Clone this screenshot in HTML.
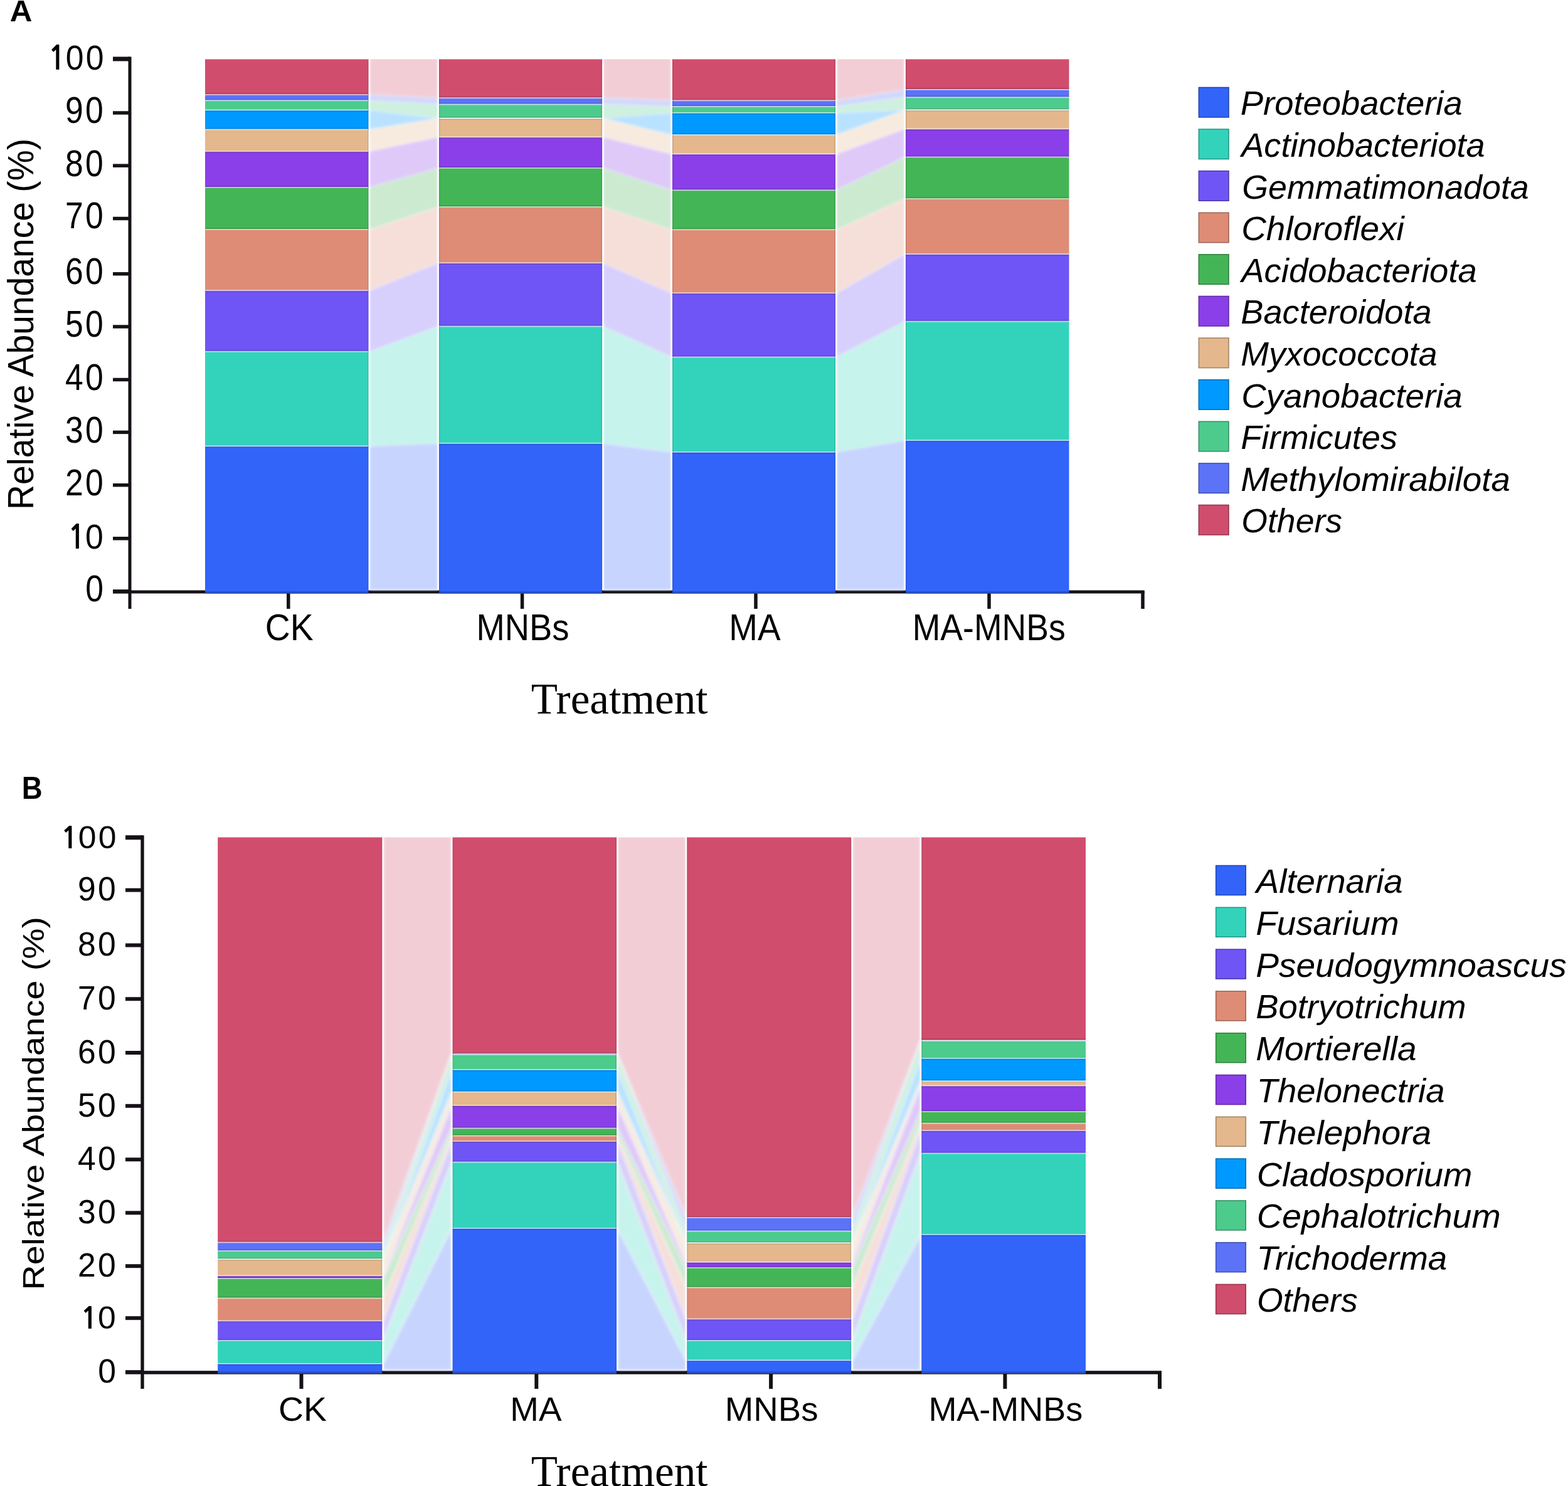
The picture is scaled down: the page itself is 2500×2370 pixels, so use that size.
<!DOCTYPE html>
<html><head><meta charset="utf-8"><title>Relative abundance</title><style>html,body{margin:0;padding:0;background:#fff;overflow:hidden}svg{display:block}</style></head>
<body>
<svg width="2500" height="2370" viewBox="0 0 2500 2370">
<defs><filter id="fa" x="-5%" y="-10%" width="110%" height="120%"><feGaussianBlur stdDeviation="2.0"/></filter><filter id="fb" x="-5%" y="-10%" width="110%" height="120%"><feGaussianBlur stdDeviation="2.6"/></filter></defs>
<line x1="207" y1="90.50" x2="207" y2="971" stroke="#151116" stroke-width="5"/>
<line x1="180" y1="943.40" x2="207" y2="943.40" stroke="#151116" stroke-width="6.5"/>
<line x1="180" y1="858.80" x2="207" y2="858.80" stroke="#151116" stroke-width="5.5"/>
<line x1="180" y1="773.70" x2="207" y2="773.70" stroke="#151116" stroke-width="5.5"/>
<line x1="180" y1="689.40" x2="207" y2="689.40" stroke="#151116" stroke-width="5.5"/>
<line x1="180" y1="605.50" x2="207" y2="605.50" stroke="#151116" stroke-width="5.5"/>
<line x1="180" y1="521.00" x2="207" y2="521.00" stroke="#151116" stroke-width="5.5"/>
<line x1="180" y1="436.80" x2="207" y2="436.80" stroke="#151116" stroke-width="5.5"/>
<line x1="180" y1="348.50" x2="207" y2="348.50" stroke="#151116" stroke-width="5.5"/>
<line x1="180" y1="264.20" x2="207" y2="264.20" stroke="#151116" stroke-width="5.5"/>
<line x1="180" y1="180.00" x2="207" y2="180.00" stroke="#151116" stroke-width="5.5"/>
<line x1="180" y1="94.00" x2="207" y2="94.00" stroke="#151116" stroke-width="7"/>
<line x1="207" y1="943.90" x2="1824.75" y2="943.90" stroke="#151116" stroke-width="5"/>
<line x1="459.8" y1="943.4" x2="459.8" y2="971" stroke="#151116" stroke-width="5.5"/>
<line x1="832.6" y1="943.4" x2="832.6" y2="971" stroke="#151116" stroke-width="5.5"/>
<line x1="1205.0" y1="943.4" x2="1205.0" y2="971" stroke="#151116" stroke-width="5.5"/>
<line x1="1577.0" y1="943.4" x2="1577.0" y2="971" stroke="#151116" stroke-width="5.5"/>
<line x1="1822" y1="943.4" x2="1822" y2="971" stroke="#151116" stroke-width="5.5"/>
<line x1="227" y1="1332.20" x2="227" y2="2215" stroke="#151116" stroke-width="5.3"/>
<line x1="200" y1="2188.50" x2="227" y2="2188.50" stroke="#151116" stroke-width="6.5"/>
<line x1="200" y1="2102.20" x2="227" y2="2102.20" stroke="#151116" stroke-width="6"/>
<line x1="200" y1="2019.22" x2="227" y2="2019.22" stroke="#151116" stroke-width="6"/>
<line x1="200" y1="1934.34" x2="227" y2="1934.34" stroke="#151116" stroke-width="6"/>
<line x1="200" y1="1849.30" x2="227" y2="1849.30" stroke="#151116" stroke-width="6"/>
<line x1="200" y1="1763.80" x2="227" y2="1763.80" stroke="#151116" stroke-width="6"/>
<line x1="200" y1="1679.00" x2="227" y2="1679.00" stroke="#151116" stroke-width="6"/>
<line x1="200" y1="1593.22" x2="227" y2="1593.22" stroke="#151116" stroke-width="6"/>
<line x1="200" y1="1507.54" x2="227" y2="1507.54" stroke="#151116" stroke-width="6"/>
<line x1="200" y1="1419.60" x2="227" y2="1419.60" stroke="#151116" stroke-width="6"/>
<line x1="200" y1="1335.70" x2="227" y2="1335.70" stroke="#151116" stroke-width="7"/>
<line x1="227" y1="2189.00" x2="1852.00" y2="2189.00" stroke="#151116" stroke-width="5.3"/>
<line x1="480.5" y1="2188.5" x2="480.5" y2="2215" stroke="#151116" stroke-width="6"/>
<line x1="855.3" y1="2188.5" x2="855.3" y2="2215" stroke="#151116" stroke-width="6"/>
<line x1="1229.1" y1="2188.5" x2="1229.1" y2="2215" stroke="#151116" stroke-width="6"/>
<line x1="1602.4" y1="2188.5" x2="1602.4" y2="2215" stroke="#151116" stroke-width="6"/>
<line x1="1849" y1="2188.5" x2="1849" y2="2215" stroke="#151116" stroke-width="6"/>
<clipPath id="cfa"><rect x="587.5" y="94.50" width="856.5" height="849.10"/></clipPath>
<g clip-path="url(#cfa)"><g filter="url(#fa)">
<polygon points="589.0,711.5 698.5,707.0 698.5,941.1 589.0,941.1" fill="#c6d4fe"/>
<polygon points="589.0,560.8 698.5,520.5 698.5,707.0 589.0,711.5" fill="#c6f3ec"/>
<polygon points="589.0,463.3 698.5,419.3 698.5,520.5 589.0,560.8" fill="#d7cffc"/>
<polygon points="589.0,366.0 698.5,330.0 698.5,419.3 589.0,463.3" fill="#f6dfd9"/>
<polygon points="589.0,299.0 698.5,268.0 698.5,330.0 589.0,366.0" fill="#cbead0"/>
<polygon points="589.0,241.2 698.5,218.5 698.5,268.0 589.0,299.0" fill="#dec9f9"/>
<polygon points="589.0,206.5 698.5,188.8 698.5,218.5 589.0,241.2" fill="#f7ebdf"/>
<polygon points="589.0,175.6 698.5,188.4 698.5,188.8 589.0,206.5" fill="#b8e2ff"/>
<polygon points="589.0,160.3 698.5,166.5 698.5,188.4 589.0,175.6" fill="#cdf0df"/>
<polygon points="589.0,151.0 698.5,156.3 698.5,166.5 589.0,160.3" fill="#d1d8fd"/>
<polygon points="589.0,86.5 698.5,86.5 698.5,156.3 589.0,151.0" fill="#f2cdd6"/>
<line x1="589.0" y1="711.50" x2="698.5" y2="707.00" stroke="#fff" stroke-opacity="0.3" stroke-width="2.0"/>
<line x1="589.0" y1="560.80" x2="698.5" y2="520.50" stroke="#fff" stroke-opacity="0.3" stroke-width="2.0"/>
<line x1="589.0" y1="463.30" x2="698.5" y2="419.30" stroke="#fff" stroke-opacity="0.3" stroke-width="2.0"/>
<line x1="589.0" y1="366.00" x2="698.5" y2="330.00" stroke="#fff" stroke-opacity="0.3" stroke-width="2.0"/>
<line x1="589.0" y1="299.00" x2="698.5" y2="268.00" stroke="#fff" stroke-opacity="0.3" stroke-width="2.0"/>
<line x1="589.0" y1="241.20" x2="698.5" y2="218.50" stroke="#fff" stroke-opacity="0.3" stroke-width="2.0"/>
<line x1="589.0" y1="206.50" x2="698.5" y2="188.80" stroke="#fff" stroke-opacity="0.3" stroke-width="2.0"/>
<line x1="589.0" y1="175.60" x2="698.5" y2="188.40" stroke="#fff" stroke-opacity="0.3" stroke-width="2.0"/>
<line x1="589.0" y1="160.30" x2="698.5" y2="166.50" stroke="#fff" stroke-opacity="0.3" stroke-width="2.0"/>
<line x1="589.0" y1="151.00" x2="698.5" y2="156.30" stroke="#fff" stroke-opacity="0.3" stroke-width="2.0"/>
<polygon points="961.5,707.0 1070.5,721.0 1070.5,941.1 961.5,941.1" fill="#c6d4fe"/>
<polygon points="961.5,520.5 1070.5,569.5 1070.5,721.0 961.5,707.0" fill="#c6f3ec"/>
<polygon points="961.5,419.3 1070.5,467.3 1070.5,569.5 961.5,520.5" fill="#d7cffc"/>
<polygon points="961.5,330.0 1070.5,366.3 1070.5,467.3 961.5,419.3" fill="#f6dfd9"/>
<polygon points="961.5,268.0 1070.5,303.3 1070.5,366.3 961.5,330.0" fill="#cbead0"/>
<polygon points="961.5,218.5 1070.5,245.6 1070.5,303.3 961.5,268.0" fill="#dec9f9"/>
<polygon points="961.5,188.8 1070.5,215.0 1070.5,245.6 961.5,218.5" fill="#f7ebdf"/>
<polygon points="961.5,188.4 1070.5,180.0 1070.5,215.0 961.5,188.8" fill="#b8e2ff"/>
<polygon points="961.5,166.5 1070.5,170.0 1070.5,180.0 961.5,188.4" fill="#cdf0df"/>
<polygon points="961.5,156.3 1070.5,160.3 1070.5,170.0 961.5,166.5" fill="#d1d8fd"/>
<polygon points="961.5,86.5 1070.5,86.5 1070.5,160.3 961.5,156.3" fill="#f2cdd6"/>
<line x1="961.5" y1="707.00" x2="1070.5" y2="721.00" stroke="#fff" stroke-opacity="0.3" stroke-width="2.0"/>
<line x1="961.5" y1="520.50" x2="1070.5" y2="569.50" stroke="#fff" stroke-opacity="0.3" stroke-width="2.0"/>
<line x1="961.5" y1="419.30" x2="1070.5" y2="467.30" stroke="#fff" stroke-opacity="0.3" stroke-width="2.0"/>
<line x1="961.5" y1="330.00" x2="1070.5" y2="366.30" stroke="#fff" stroke-opacity="0.3" stroke-width="2.0"/>
<line x1="961.5" y1="268.00" x2="1070.5" y2="303.30" stroke="#fff" stroke-opacity="0.3" stroke-width="2.0"/>
<line x1="961.5" y1="218.50" x2="1070.5" y2="245.60" stroke="#fff" stroke-opacity="0.3" stroke-width="2.0"/>
<line x1="961.5" y1="188.80" x2="1070.5" y2="215.00" stroke="#fff" stroke-opacity="0.3" stroke-width="2.0"/>
<line x1="961.5" y1="188.40" x2="1070.5" y2="180.00" stroke="#fff" stroke-opacity="0.3" stroke-width="2.0"/>
<line x1="961.5" y1="166.50" x2="1070.5" y2="170.00" stroke="#fff" stroke-opacity="0.3" stroke-width="2.0"/>
<line x1="961.5" y1="156.30" x2="1070.5" y2="160.30" stroke="#fff" stroke-opacity="0.3" stroke-width="2.0"/>
<polygon points="1333.5,721.0 1442.5,702.3 1442.5,941.1 1333.5,941.1" fill="#c6d4fe"/>
<polygon points="1333.5,569.5 1442.5,512.8 1442.5,702.3 1333.5,721.0" fill="#c6f3ec"/>
<polygon points="1333.5,467.3 1442.5,405.3 1442.5,512.8 1333.5,569.5" fill="#d7cffc"/>
<polygon points="1333.5,366.3 1442.5,317.0 1442.5,405.3 1333.5,467.3" fill="#f6dfd9"/>
<polygon points="1333.5,303.3 1442.5,250.5 1442.5,317.0 1333.5,366.3" fill="#cbead0"/>
<polygon points="1333.5,245.6 1442.5,205.6 1442.5,250.5 1333.5,303.3" fill="#dec9f9"/>
<polygon points="1333.5,215.0 1442.5,175.5 1442.5,205.6 1333.5,245.6" fill="#f7ebdf"/>
<polygon points="1333.5,180.0 1442.5,175.0 1442.5,175.5 1333.5,215.0" fill="#b8e2ff"/>
<polygon points="1333.5,170.0 1442.5,155.3 1442.5,175.0 1333.5,180.0" fill="#cdf0df"/>
<polygon points="1333.5,160.3 1442.5,142.9 1442.5,155.3 1333.5,170.0" fill="#d1d8fd"/>
<polygon points="1333.5,86.5 1442.5,86.5 1442.5,142.9 1333.5,160.3" fill="#f2cdd6"/>
<line x1="1333.5" y1="721.00" x2="1442.5" y2="702.30" stroke="#fff" stroke-opacity="0.3" stroke-width="2.0"/>
<line x1="1333.5" y1="569.50" x2="1442.5" y2="512.80" stroke="#fff" stroke-opacity="0.3" stroke-width="2.0"/>
<line x1="1333.5" y1="467.30" x2="1442.5" y2="405.30" stroke="#fff" stroke-opacity="0.3" stroke-width="2.0"/>
<line x1="1333.5" y1="366.30" x2="1442.5" y2="317.00" stroke="#fff" stroke-opacity="0.3" stroke-width="2.0"/>
<line x1="1333.5" y1="303.30" x2="1442.5" y2="250.50" stroke="#fff" stroke-opacity="0.3" stroke-width="2.0"/>
<line x1="1333.5" y1="245.60" x2="1442.5" y2="205.60" stroke="#fff" stroke-opacity="0.3" stroke-width="2.0"/>
<line x1="1333.5" y1="215.00" x2="1442.5" y2="175.50" stroke="#fff" stroke-opacity="0.3" stroke-width="2.0"/>
<line x1="1333.5" y1="180.00" x2="1442.5" y2="175.00" stroke="#fff" stroke-opacity="0.3" stroke-width="2.0"/>
<line x1="1333.5" y1="170.00" x2="1442.5" y2="155.30" stroke="#fff" stroke-opacity="0.3" stroke-width="2.0"/>
<line x1="1333.5" y1="160.30" x2="1442.5" y2="142.90" stroke="#fff" stroke-opacity="0.3" stroke-width="2.0"/>
</g></g>
<rect x="327.0" y="711.50" width="260.5" height="235.10" fill="#3264fa"/>
<rect x="327.0" y="560.80" width="260.5" height="150.70" fill="#33d3bb"/>
<rect x="327.0" y="463.30" width="260.5" height="97.50" fill="#6f55f5"/>
<rect x="327.0" y="366.00" width="260.5" height="97.30" fill="#de8c76"/>
<rect x="327.0" y="299.00" width="260.5" height="67.00" fill="#44b556"/>
<rect x="327.0" y="241.20" width="260.5" height="57.80" fill="#8a3fe8"/>
<rect x="327.0" y="206.50" width="260.5" height="34.70" fill="#e4b78c"/>
<rect x="327.0" y="175.60" width="260.5" height="30.90" fill="#0099ff"/>
<rect x="327.0" y="160.30" width="260.5" height="15.30" fill="#4ccb8c"/>
<rect x="327.0" y="151.00" width="260.5" height="9.30" fill="#5c73f7"/>
<rect x="327.0" y="94.50" width="260.5" height="56.50" fill="#d14d6d"/>
<rect x="327.0" y="943.10" width="260.5" height="3.5" fill="#000" fill-opacity="0.22"/>
<line x1="327.0" y1="149.20" x2="587.5" y2="149.20" stroke="#000" stroke-opacity="0.16" stroke-width="1.6"/>
<line x1="327.0" y1="151.00" x2="587.5" y2="151.00" stroke="#fff" stroke-opacity="0.55" stroke-width="2.0"/>
<line x1="327.0" y1="158.50" x2="587.5" y2="158.50" stroke="#000" stroke-opacity="0.16" stroke-width="1.6"/>
<line x1="327.0" y1="160.30" x2="587.5" y2="160.30" stroke="#fff" stroke-opacity="0.55" stroke-width="2.0"/>
<line x1="327.0" y1="177.40" x2="587.5" y2="177.40" stroke="#000" stroke-opacity="0.16" stroke-width="1.6"/>
<line x1="327.0" y1="175.60" x2="587.5" y2="175.60" stroke="#fff" stroke-opacity="0.55" stroke-width="2.0"/>
<line x1="327.0" y1="204.70" x2="587.5" y2="204.70" stroke="#000" stroke-opacity="0.16" stroke-width="1.6"/>
<line x1="327.0" y1="206.50" x2="587.5" y2="206.50" stroke="#fff" stroke-opacity="0.55" stroke-width="2.0"/>
<line x1="327.0" y1="243.00" x2="587.5" y2="243.00" stroke="#000" stroke-opacity="0.16" stroke-width="1.6"/>
<line x1="327.0" y1="241.20" x2="587.5" y2="241.20" stroke="#fff" stroke-opacity="0.55" stroke-width="2.0"/>
<line x1="327.0" y1="297.20" x2="587.5" y2="297.20" stroke="#000" stroke-opacity="0.16" stroke-width="1.6"/>
<line x1="327.0" y1="299.00" x2="587.5" y2="299.00" stroke="#fff" stroke-opacity="0.55" stroke-width="2.0"/>
<line x1="327.0" y1="364.20" x2="587.5" y2="364.20" stroke="#000" stroke-opacity="0.16" stroke-width="1.6"/>
<line x1="327.0" y1="366.00" x2="587.5" y2="366.00" stroke="#fff" stroke-opacity="0.55" stroke-width="2.0"/>
<line x1="327.0" y1="465.10" x2="587.5" y2="465.10" stroke="#000" stroke-opacity="0.16" stroke-width="1.6"/>
<line x1="327.0" y1="463.30" x2="587.5" y2="463.30" stroke="#fff" stroke-opacity="0.55" stroke-width="2.0"/>
<line x1="327.0" y1="559.00" x2="587.5" y2="559.00" stroke="#000" stroke-opacity="0.16" stroke-width="1.6"/>
<line x1="327.0" y1="560.80" x2="587.5" y2="560.80" stroke="#fff" stroke-opacity="0.55" stroke-width="2.0"/>
<line x1="327.0" y1="713.30" x2="587.5" y2="713.30" stroke="#000" stroke-opacity="0.16" stroke-width="1.6"/>
<line x1="327.0" y1="711.50" x2="587.5" y2="711.50" stroke="#fff" stroke-opacity="0.55" stroke-width="2.0"/>
<line x1="586.75" y1="94.50" x2="586.75" y2="943.60" stroke="#000" stroke-opacity="0.112" stroke-width="1.5"/>
<line x1="589.10" y1="94.50" x2="589.10" y2="941.10" stroke="#fff" stroke-opacity="0.75" stroke-width="2.4"/>
<rect x="700.0" y="707.00" width="260.0" height="239.60" fill="#3264fa"/>
<rect x="700.0" y="520.50" width="260.0" height="186.50" fill="#33d3bb"/>
<rect x="700.0" y="419.30" width="260.0" height="101.20" fill="#6f55f5"/>
<rect x="700.0" y="330.00" width="260.0" height="89.30" fill="#de8c76"/>
<rect x="700.0" y="268.00" width="260.0" height="62.00" fill="#44b556"/>
<rect x="700.0" y="218.50" width="260.0" height="49.50" fill="#8a3fe8"/>
<rect x="700.0" y="188.80" width="260.0" height="29.70" fill="#e4b78c"/>
<rect x="700.0" y="188.40" width="260.0" height="0.40" fill="#0099ff"/>
<rect x="700.0" y="166.50" width="260.0" height="21.90" fill="#4ccb8c"/>
<rect x="700.0" y="156.30" width="260.0" height="10.20" fill="#5c73f7"/>
<rect x="700.0" y="94.50" width="260.0" height="61.80" fill="#d14d6d"/>
<rect x="700.0" y="943.10" width="260.0" height="3.5" fill="#000" fill-opacity="0.22"/>
<line x1="700.0" y1="154.50" x2="960.0" y2="154.50" stroke="#000" stroke-opacity="0.16" stroke-width="1.6"/>
<line x1="700.0" y1="156.30" x2="960.0" y2="156.30" stroke="#fff" stroke-opacity="0.55" stroke-width="2.0"/>
<line x1="700.0" y1="164.70" x2="960.0" y2="164.70" stroke="#000" stroke-opacity="0.16" stroke-width="1.6"/>
<line x1="700.0" y1="166.50" x2="960.0" y2="166.50" stroke="#fff" stroke-opacity="0.55" stroke-width="2.0"/>
<line x1="700.0" y1="190.20" x2="960.0" y2="190.20" stroke="#000" stroke-opacity="0.16" stroke-width="1.6"/>
<line x1="700.0" y1="188.40" x2="960.0" y2="188.40" stroke="#fff" stroke-opacity="0.55" stroke-width="2.0"/>
<line x1="700.0" y1="187.00" x2="960.0" y2="187.00" stroke="#000" stroke-opacity="0.16" stroke-width="1.6"/>
<line x1="700.0" y1="188.80" x2="960.0" y2="188.80" stroke="#fff" stroke-opacity="0.55" stroke-width="2.0"/>
<line x1="700.0" y1="220.30" x2="960.0" y2="220.30" stroke="#000" stroke-opacity="0.16" stroke-width="1.6"/>
<line x1="700.0" y1="218.50" x2="960.0" y2="218.50" stroke="#fff" stroke-opacity="0.55" stroke-width="2.0"/>
<line x1="700.0" y1="266.20" x2="960.0" y2="266.20" stroke="#000" stroke-opacity="0.16" stroke-width="1.6"/>
<line x1="700.0" y1="268.00" x2="960.0" y2="268.00" stroke="#fff" stroke-opacity="0.55" stroke-width="2.0"/>
<line x1="700.0" y1="328.20" x2="960.0" y2="328.20" stroke="#000" stroke-opacity="0.16" stroke-width="1.6"/>
<line x1="700.0" y1="330.00" x2="960.0" y2="330.00" stroke="#fff" stroke-opacity="0.55" stroke-width="2.0"/>
<line x1="700.0" y1="421.10" x2="960.0" y2="421.10" stroke="#000" stroke-opacity="0.16" stroke-width="1.6"/>
<line x1="700.0" y1="419.30" x2="960.0" y2="419.30" stroke="#fff" stroke-opacity="0.55" stroke-width="2.0"/>
<line x1="700.0" y1="518.70" x2="960.0" y2="518.70" stroke="#000" stroke-opacity="0.16" stroke-width="1.6"/>
<line x1="700.0" y1="520.50" x2="960.0" y2="520.50" stroke="#fff" stroke-opacity="0.55" stroke-width="2.0"/>
<line x1="700.0" y1="708.80" x2="960.0" y2="708.80" stroke="#000" stroke-opacity="0.16" stroke-width="1.6"/>
<line x1="700.0" y1="707.00" x2="960.0" y2="707.00" stroke="#fff" stroke-opacity="0.55" stroke-width="2.0"/>
<line x1="700.75" y1="94.50" x2="700.75" y2="943.60" stroke="#000" stroke-opacity="0.112" stroke-width="1.5"/>
<line x1="698.40" y1="94.50" x2="698.40" y2="941.10" stroke="#fff" stroke-opacity="0.75" stroke-width="2.4"/>
<line x1="959.25" y1="94.50" x2="959.25" y2="943.60" stroke="#000" stroke-opacity="0.112" stroke-width="1.5"/>
<line x1="961.60" y1="94.50" x2="961.60" y2="941.10" stroke="#fff" stroke-opacity="0.75" stroke-width="2.4"/>
<rect x="1072.0" y="721.00" width="260.0" height="225.60" fill="#3264fa"/>
<rect x="1072.0" y="569.50" width="260.0" height="151.50" fill="#33d3bb"/>
<rect x="1072.0" y="467.30" width="260.0" height="102.20" fill="#6f55f5"/>
<rect x="1072.0" y="366.30" width="260.0" height="101.00" fill="#de8c76"/>
<rect x="1072.0" y="303.30" width="260.0" height="63.00" fill="#44b556"/>
<rect x="1072.0" y="245.60" width="260.0" height="57.70" fill="#8a3fe8"/>
<rect x="1072.0" y="215.00" width="260.0" height="30.60" fill="#e4b78c"/>
<rect x="1072.0" y="180.00" width="260.0" height="35.00" fill="#0099ff"/>
<rect x="1072.0" y="170.00" width="260.0" height="10.00" fill="#4ccb8c"/>
<rect x="1072.0" y="160.30" width="260.0" height="9.70" fill="#5c73f7"/>
<rect x="1072.0" y="94.50" width="260.0" height="65.80" fill="#d14d6d"/>
<rect x="1072.0" y="943.10" width="260.0" height="3.5" fill="#000" fill-opacity="0.22"/>
<line x1="1072.0" y1="158.50" x2="1332.0" y2="158.50" stroke="#000" stroke-opacity="0.16" stroke-width="1.6"/>
<line x1="1072.0" y1="160.30" x2="1332.0" y2="160.30" stroke="#fff" stroke-opacity="0.55" stroke-width="2.0"/>
<line x1="1072.0" y1="168.20" x2="1332.0" y2="168.20" stroke="#000" stroke-opacity="0.16" stroke-width="1.6"/>
<line x1="1072.0" y1="170.00" x2="1332.0" y2="170.00" stroke="#fff" stroke-opacity="0.55" stroke-width="2.0"/>
<line x1="1072.0" y1="181.80" x2="1332.0" y2="181.80" stroke="#000" stroke-opacity="0.16" stroke-width="1.6"/>
<line x1="1072.0" y1="180.00" x2="1332.0" y2="180.00" stroke="#fff" stroke-opacity="0.55" stroke-width="2.0"/>
<line x1="1072.0" y1="213.20" x2="1332.0" y2="213.20" stroke="#000" stroke-opacity="0.16" stroke-width="1.6"/>
<line x1="1072.0" y1="215.00" x2="1332.0" y2="215.00" stroke="#fff" stroke-opacity="0.55" stroke-width="2.0"/>
<line x1="1072.0" y1="247.40" x2="1332.0" y2="247.40" stroke="#000" stroke-opacity="0.16" stroke-width="1.6"/>
<line x1="1072.0" y1="245.60" x2="1332.0" y2="245.60" stroke="#fff" stroke-opacity="0.55" stroke-width="2.0"/>
<line x1="1072.0" y1="301.50" x2="1332.0" y2="301.50" stroke="#000" stroke-opacity="0.16" stroke-width="1.6"/>
<line x1="1072.0" y1="303.30" x2="1332.0" y2="303.30" stroke="#fff" stroke-opacity="0.55" stroke-width="2.0"/>
<line x1="1072.0" y1="364.50" x2="1332.0" y2="364.50" stroke="#000" stroke-opacity="0.16" stroke-width="1.6"/>
<line x1="1072.0" y1="366.30" x2="1332.0" y2="366.30" stroke="#fff" stroke-opacity="0.55" stroke-width="2.0"/>
<line x1="1072.0" y1="469.10" x2="1332.0" y2="469.10" stroke="#000" stroke-opacity="0.16" stroke-width="1.6"/>
<line x1="1072.0" y1="467.30" x2="1332.0" y2="467.30" stroke="#fff" stroke-opacity="0.55" stroke-width="2.0"/>
<line x1="1072.0" y1="567.70" x2="1332.0" y2="567.70" stroke="#000" stroke-opacity="0.16" stroke-width="1.6"/>
<line x1="1072.0" y1="569.50" x2="1332.0" y2="569.50" stroke="#fff" stroke-opacity="0.55" stroke-width="2.0"/>
<line x1="1072.0" y1="722.80" x2="1332.0" y2="722.80" stroke="#000" stroke-opacity="0.16" stroke-width="1.6"/>
<line x1="1072.0" y1="721.00" x2="1332.0" y2="721.00" stroke="#fff" stroke-opacity="0.55" stroke-width="2.0"/>
<line x1="1072.75" y1="94.50" x2="1072.75" y2="943.60" stroke="#000" stroke-opacity="0.112" stroke-width="1.5"/>
<line x1="1070.40" y1="94.50" x2="1070.40" y2="941.10" stroke="#fff" stroke-opacity="0.75" stroke-width="2.4"/>
<line x1="1331.25" y1="94.50" x2="1331.25" y2="943.60" stroke="#000" stroke-opacity="0.112" stroke-width="1.5"/>
<line x1="1333.60" y1="94.50" x2="1333.60" y2="941.10" stroke="#fff" stroke-opacity="0.75" stroke-width="2.4"/>
<rect x="1444.0" y="702.30" width="260.5" height="244.30" fill="#3264fa"/>
<rect x="1444.0" y="512.80" width="260.5" height="189.50" fill="#33d3bb"/>
<rect x="1444.0" y="405.30" width="260.5" height="107.50" fill="#6f55f5"/>
<rect x="1444.0" y="317.00" width="260.5" height="88.30" fill="#de8c76"/>
<rect x="1444.0" y="250.50" width="260.5" height="66.50" fill="#44b556"/>
<rect x="1444.0" y="205.60" width="260.5" height="44.90" fill="#8a3fe8"/>
<rect x="1444.0" y="175.50" width="260.5" height="30.10" fill="#e4b78c"/>
<rect x="1444.0" y="175.00" width="260.5" height="0.50" fill="#0099ff"/>
<rect x="1444.0" y="155.30" width="260.5" height="19.70" fill="#4ccb8c"/>
<rect x="1444.0" y="142.90" width="260.5" height="12.40" fill="#5c73f7"/>
<rect x="1444.0" y="94.50" width="260.5" height="48.40" fill="#d14d6d"/>
<rect x="1444.0" y="943.10" width="260.5" height="3.5" fill="#000" fill-opacity="0.22"/>
<line x1="1444.0" y1="141.10" x2="1704.5" y2="141.10" stroke="#000" stroke-opacity="0.16" stroke-width="1.6"/>
<line x1="1444.0" y1="142.90" x2="1704.5" y2="142.90" stroke="#fff" stroke-opacity="0.55" stroke-width="2.0"/>
<line x1="1444.0" y1="153.50" x2="1704.5" y2="153.50" stroke="#000" stroke-opacity="0.16" stroke-width="1.6"/>
<line x1="1444.0" y1="155.30" x2="1704.5" y2="155.30" stroke="#fff" stroke-opacity="0.55" stroke-width="2.0"/>
<line x1="1444.0" y1="176.80" x2="1704.5" y2="176.80" stroke="#000" stroke-opacity="0.16" stroke-width="1.6"/>
<line x1="1444.0" y1="175.00" x2="1704.5" y2="175.00" stroke="#fff" stroke-opacity="0.55" stroke-width="2.0"/>
<line x1="1444.0" y1="173.70" x2="1704.5" y2="173.70" stroke="#000" stroke-opacity="0.16" stroke-width="1.6"/>
<line x1="1444.0" y1="175.50" x2="1704.5" y2="175.50" stroke="#fff" stroke-opacity="0.55" stroke-width="2.0"/>
<line x1="1444.0" y1="207.40" x2="1704.5" y2="207.40" stroke="#000" stroke-opacity="0.16" stroke-width="1.6"/>
<line x1="1444.0" y1="205.60" x2="1704.5" y2="205.60" stroke="#fff" stroke-opacity="0.55" stroke-width="2.0"/>
<line x1="1444.0" y1="248.70" x2="1704.5" y2="248.70" stroke="#000" stroke-opacity="0.16" stroke-width="1.6"/>
<line x1="1444.0" y1="250.50" x2="1704.5" y2="250.50" stroke="#fff" stroke-opacity="0.55" stroke-width="2.0"/>
<line x1="1444.0" y1="315.20" x2="1704.5" y2="315.20" stroke="#000" stroke-opacity="0.16" stroke-width="1.6"/>
<line x1="1444.0" y1="317.00" x2="1704.5" y2="317.00" stroke="#fff" stroke-opacity="0.55" stroke-width="2.0"/>
<line x1="1444.0" y1="407.10" x2="1704.5" y2="407.10" stroke="#000" stroke-opacity="0.16" stroke-width="1.6"/>
<line x1="1444.0" y1="405.30" x2="1704.5" y2="405.30" stroke="#fff" stroke-opacity="0.55" stroke-width="2.0"/>
<line x1="1444.0" y1="511.00" x2="1704.5" y2="511.00" stroke="#000" stroke-opacity="0.16" stroke-width="1.6"/>
<line x1="1444.0" y1="512.80" x2="1704.5" y2="512.80" stroke="#fff" stroke-opacity="0.55" stroke-width="2.0"/>
<line x1="1444.0" y1="704.10" x2="1704.5" y2="704.10" stroke="#000" stroke-opacity="0.16" stroke-width="1.6"/>
<line x1="1444.0" y1="702.30" x2="1704.5" y2="702.30" stroke="#fff" stroke-opacity="0.55" stroke-width="2.0"/>
<line x1="1444.75" y1="94.50" x2="1444.75" y2="943.60" stroke="#000" stroke-opacity="0.112" stroke-width="1.5"/>
<line x1="1442.40" y1="94.50" x2="1442.40" y2="941.10" stroke="#fff" stroke-opacity="0.75" stroke-width="2.4"/>
<clipPath id="cfb"><rect x="609.3" y="1335.50" width="860.0" height="852.30"/></clipPath>
<g clip-path="url(#cfb)"><g filter="url(#fb)">
<polygon points="610.8,2175.0 720.1,1959.0 720.1,2185.3 610.8,2185.3" fill="#c6d4fe"/>
<polygon points="610.8,2138.0 720.1,1853.5 720.1,1959.0 610.8,2175.0" fill="#c6f3ec"/>
<polygon points="610.8,2106.5 720.1,1820.0 720.1,1853.5 610.8,2138.0" fill="#d7cffc"/>
<polygon points="610.8,2070.5 720.1,1811.5 720.1,1820.0 610.8,2106.5" fill="#f6dfd9"/>
<polygon points="610.8,2039.0 720.1,1799.5 720.1,1811.5 610.8,2070.5" fill="#cbead0"/>
<polygon points="610.8,2034.5 720.1,1763.0 720.1,1799.5 610.8,2039.0" fill="#dec9f9"/>
<polygon points="610.8,2008.5 720.1,1741.5 720.1,1763.0 610.8,2034.5" fill="#f7ebdf"/>
<polygon points="610.8,2008.0 720.1,1706.0 720.1,1741.5 610.8,2008.5" fill="#b8e2ff"/>
<polygon points="610.8,1995.0 720.1,1682.0 720.1,1706.0 610.8,2008.0" fill="#cdf0df"/>
<polygon points="610.8,1981.5 720.1,1680.5 720.1,1682.0 610.8,1995.0" fill="#d1d8fd"/>
<polygon points="610.8,1327.5 720.1,1327.5 720.1,1680.5 610.8,1981.5" fill="#f2cdd6"/>
<line x1="610.8" y1="2175.00" x2="720.1" y2="1959.00" stroke="#fff" stroke-opacity="0.6" stroke-width="2.0"/>
<line x1="610.8" y1="2138.00" x2="720.1" y2="1853.50" stroke="#fff" stroke-opacity="0.6" stroke-width="2.0"/>
<line x1="610.8" y1="2106.50" x2="720.1" y2="1820.00" stroke="#fff" stroke-opacity="0.6" stroke-width="2.0"/>
<line x1="610.8" y1="2070.50" x2="720.1" y2="1811.50" stroke="#fff" stroke-opacity="0.6" stroke-width="2.0"/>
<line x1="610.8" y1="2039.00" x2="720.1" y2="1799.50" stroke="#fff" stroke-opacity="0.6" stroke-width="2.0"/>
<line x1="610.8" y1="2034.50" x2="720.1" y2="1763.00" stroke="#fff" stroke-opacity="0.6" stroke-width="2.0"/>
<line x1="610.8" y1="2008.50" x2="720.1" y2="1741.50" stroke="#fff" stroke-opacity="0.6" stroke-width="2.0"/>
<line x1="610.8" y1="2008.00" x2="720.1" y2="1706.00" stroke="#fff" stroke-opacity="0.6" stroke-width="2.0"/>
<line x1="610.8" y1="1995.00" x2="720.1" y2="1682.00" stroke="#fff" stroke-opacity="0.6" stroke-width="2.0"/>
<line x1="610.8" y1="1981.50" x2="720.1" y2="1680.50" stroke="#fff" stroke-opacity="0.6" stroke-width="2.0"/>
<polygon points="984.5,1959.0 1093.9,2169.5 1093.9,2185.3 984.5,2185.3" fill="#c6d4fe"/>
<polygon points="984.5,1853.5 1093.9,2138.0 1093.9,2169.5 984.5,1959.0" fill="#c6f3ec"/>
<polygon points="984.5,1820.0 1093.9,2103.5 1093.9,2138.0 984.5,1853.5" fill="#d7cffc"/>
<polygon points="984.5,1811.5 1093.9,2053.5 1093.9,2103.5 984.5,1820.0" fill="#f6dfd9"/>
<polygon points="984.5,1799.5 1093.9,2022.0 1093.9,2053.5 984.5,1811.5" fill="#cbead0"/>
<polygon points="984.5,1763.0 1093.9,2013.0 1093.9,2022.0 984.5,1799.5" fill="#dec9f9"/>
<polygon points="984.5,1741.5 1093.9,1982.5 1093.9,2013.0 984.5,1763.0" fill="#f7ebdf"/>
<polygon points="984.5,1706.0 1093.9,1982.0 1093.9,1982.5 984.5,1741.5" fill="#b8e2ff"/>
<polygon points="984.5,1682.0 1093.9,1963.5 1093.9,1982.0 984.5,1706.0" fill="#cdf0df"/>
<polygon points="984.5,1680.5 1093.9,1942.0 1093.9,1963.5 984.5,1682.0" fill="#d1d8fd"/>
<polygon points="984.5,1327.5 1093.9,1327.5 1093.9,1942.0 984.5,1680.5" fill="#f2cdd6"/>
<line x1="984.5" y1="1959.00" x2="1093.9" y2="2169.50" stroke="#fff" stroke-opacity="0.6" stroke-width="2.0"/>
<line x1="984.5" y1="1853.50" x2="1093.9" y2="2138.00" stroke="#fff" stroke-opacity="0.6" stroke-width="2.0"/>
<line x1="984.5" y1="1820.00" x2="1093.9" y2="2103.50" stroke="#fff" stroke-opacity="0.6" stroke-width="2.0"/>
<line x1="984.5" y1="1811.50" x2="1093.9" y2="2053.50" stroke="#fff" stroke-opacity="0.6" stroke-width="2.0"/>
<line x1="984.5" y1="1799.50" x2="1093.9" y2="2022.00" stroke="#fff" stroke-opacity="0.6" stroke-width="2.0"/>
<line x1="984.5" y1="1763.00" x2="1093.9" y2="2013.00" stroke="#fff" stroke-opacity="0.6" stroke-width="2.0"/>
<line x1="984.5" y1="1741.50" x2="1093.9" y2="1982.50" stroke="#fff" stroke-opacity="0.6" stroke-width="2.0"/>
<line x1="984.5" y1="1706.00" x2="1093.9" y2="1982.00" stroke="#fff" stroke-opacity="0.6" stroke-width="2.0"/>
<line x1="984.5" y1="1682.00" x2="1093.9" y2="1963.50" stroke="#fff" stroke-opacity="0.6" stroke-width="2.0"/>
<line x1="984.5" y1="1680.50" x2="1093.9" y2="1942.00" stroke="#fff" stroke-opacity="0.6" stroke-width="2.0"/>
<polygon points="1358.7,2169.5 1467.8,1969.0 1467.8,2185.3 1358.7,2185.3" fill="#c6d4fe"/>
<polygon points="1358.7,2138.0 1467.8,1839.5 1467.8,1969.0 1358.7,2169.5" fill="#c6f3ec"/>
<polygon points="1358.7,2103.5 1467.8,1803.0 1467.8,1839.5 1358.7,2138.0" fill="#d7cffc"/>
<polygon points="1358.7,2053.5 1467.8,1791.5 1467.8,1803.0 1358.7,2103.5" fill="#f6dfd9"/>
<polygon points="1358.7,2022.0 1467.8,1773.0 1467.8,1791.5 1358.7,2053.5" fill="#cbead0"/>
<polygon points="1358.7,2013.0 1467.8,1731.5 1467.8,1773.0 1358.7,2022.0" fill="#dec9f9"/>
<polygon points="1358.7,1982.5 1467.8,1724.0 1467.8,1731.5 1358.7,2013.0" fill="#f7ebdf"/>
<polygon points="1358.7,1982.0 1467.8,1688.0 1467.8,1724.0 1358.7,1982.5" fill="#b8e2ff"/>
<polygon points="1358.7,1963.5 1467.8,1660.0 1467.8,1688.0 1358.7,1982.0" fill="#cdf0df"/>
<polygon points="1358.7,1942.0 1467.8,1659.0 1467.8,1660.0 1358.7,1963.5" fill="#d1d8fd"/>
<polygon points="1358.7,1327.5 1467.8,1327.5 1467.8,1659.0 1358.7,1942.0" fill="#f2cdd6"/>
<line x1="1358.7" y1="2169.50" x2="1467.8" y2="1969.00" stroke="#fff" stroke-opacity="0.6" stroke-width="2.0"/>
<line x1="1358.7" y1="2138.00" x2="1467.8" y2="1839.50" stroke="#fff" stroke-opacity="0.6" stroke-width="2.0"/>
<line x1="1358.7" y1="2103.50" x2="1467.8" y2="1803.00" stroke="#fff" stroke-opacity="0.6" stroke-width="2.0"/>
<line x1="1358.7" y1="2053.50" x2="1467.8" y2="1791.50" stroke="#fff" stroke-opacity="0.6" stroke-width="2.0"/>
<line x1="1358.7" y1="2022.00" x2="1467.8" y2="1773.00" stroke="#fff" stroke-opacity="0.6" stroke-width="2.0"/>
<line x1="1358.7" y1="2013.00" x2="1467.8" y2="1731.50" stroke="#fff" stroke-opacity="0.6" stroke-width="2.0"/>
<line x1="1358.7" y1="1982.50" x2="1467.8" y2="1724.00" stroke="#fff" stroke-opacity="0.6" stroke-width="2.0"/>
<line x1="1358.7" y1="1982.00" x2="1467.8" y2="1688.00" stroke="#fff" stroke-opacity="0.6" stroke-width="2.0"/>
<line x1="1358.7" y1="1963.50" x2="1467.8" y2="1660.00" stroke="#fff" stroke-opacity="0.6" stroke-width="2.0"/>
<line x1="1358.7" y1="1942.00" x2="1467.8" y2="1659.00" stroke="#fff" stroke-opacity="0.6" stroke-width="2.0"/>
</g></g>
<rect x="347.2" y="2175.00" width="262.1" height="15.80" fill="#3264fa"/>
<rect x="347.2" y="2138.00" width="262.1" height="37.00" fill="#33d3bb"/>
<rect x="347.2" y="2106.50" width="262.1" height="31.50" fill="#6f55f5"/>
<rect x="347.2" y="2070.50" width="262.1" height="36.00" fill="#de8c76"/>
<rect x="347.2" y="2039.00" width="262.1" height="31.50" fill="#44b556"/>
<rect x="347.2" y="2034.50" width="262.1" height="4.50" fill="#8a3fe8"/>
<rect x="347.2" y="2008.50" width="262.1" height="26.00" fill="#e4b78c"/>
<rect x="347.2" y="2008.00" width="262.1" height="0.50" fill="#0099ff"/>
<rect x="347.2" y="1995.00" width="262.1" height="13.00" fill="#4ccb8c"/>
<rect x="347.2" y="1981.50" width="262.1" height="13.50" fill="#5c73f7"/>
<rect x="347.2" y="1335.50" width="262.1" height="646.00" fill="#d14d6d"/>
<rect x="347.2" y="2187.30" width="262.1" height="3.5" fill="#000" fill-opacity="0.22"/>
<line x1="347.2" y1="1979.70" x2="609.3" y2="1979.70" stroke="#000" stroke-opacity="0.16" stroke-width="1.6"/>
<line x1="347.2" y1="1981.50" x2="609.3" y2="1981.50" stroke="#fff" stroke-opacity="0.55" stroke-width="2.0"/>
<line x1="347.2" y1="1993.20" x2="609.3" y2="1993.20" stroke="#000" stroke-opacity="0.16" stroke-width="1.6"/>
<line x1="347.2" y1="1995.00" x2="609.3" y2="1995.00" stroke="#fff" stroke-opacity="0.55" stroke-width="2.0"/>
<line x1="347.2" y1="2009.80" x2="609.3" y2="2009.80" stroke="#000" stroke-opacity="0.16" stroke-width="1.6"/>
<line x1="347.2" y1="2008.00" x2="609.3" y2="2008.00" stroke="#fff" stroke-opacity="0.55" stroke-width="2.0"/>
<line x1="347.2" y1="2006.70" x2="609.3" y2="2006.70" stroke="#000" stroke-opacity="0.16" stroke-width="1.6"/>
<line x1="347.2" y1="2008.50" x2="609.3" y2="2008.50" stroke="#fff" stroke-opacity="0.55" stroke-width="2.0"/>
<line x1="347.2" y1="2036.30" x2="609.3" y2="2036.30" stroke="#000" stroke-opacity="0.16" stroke-width="1.6"/>
<line x1="347.2" y1="2034.50" x2="609.3" y2="2034.50" stroke="#fff" stroke-opacity="0.55" stroke-width="2.0"/>
<line x1="347.2" y1="2037.20" x2="609.3" y2="2037.20" stroke="#000" stroke-opacity="0.16" stroke-width="1.6"/>
<line x1="347.2" y1="2039.00" x2="609.3" y2="2039.00" stroke="#fff" stroke-opacity="0.55" stroke-width="2.0"/>
<line x1="347.2" y1="2068.70" x2="609.3" y2="2068.70" stroke="#000" stroke-opacity="0.16" stroke-width="1.6"/>
<line x1="347.2" y1="2070.50" x2="609.3" y2="2070.50" stroke="#fff" stroke-opacity="0.55" stroke-width="2.0"/>
<line x1="347.2" y1="2108.30" x2="609.3" y2="2108.30" stroke="#000" stroke-opacity="0.16" stroke-width="1.6"/>
<line x1="347.2" y1="2106.50" x2="609.3" y2="2106.50" stroke="#fff" stroke-opacity="0.55" stroke-width="2.0"/>
<line x1="347.2" y1="2136.20" x2="609.3" y2="2136.20" stroke="#000" stroke-opacity="0.16" stroke-width="1.6"/>
<line x1="347.2" y1="2138.00" x2="609.3" y2="2138.00" stroke="#fff" stroke-opacity="0.55" stroke-width="2.0"/>
<line x1="347.2" y1="2176.80" x2="609.3" y2="2176.80" stroke="#000" stroke-opacity="0.16" stroke-width="1.6"/>
<line x1="347.2" y1="2175.00" x2="609.3" y2="2175.00" stroke="#fff" stroke-opacity="0.55" stroke-width="2.0"/>
<line x1="608.55" y1="1335.50" x2="608.55" y2="2187.80" stroke="#000" stroke-opacity="0.112" stroke-width="1.5"/>
<line x1="610.90" y1="1335.50" x2="610.90" y2="2185.30" stroke="#fff" stroke-opacity="0.75" stroke-width="2.4"/>
<rect x="721.6" y="1959.00" width="261.4" height="231.80" fill="#3264fa"/>
<rect x="721.6" y="1853.50" width="261.4" height="105.50" fill="#33d3bb"/>
<rect x="721.6" y="1820.00" width="261.4" height="33.50" fill="#6f55f5"/>
<rect x="721.6" y="1811.50" width="261.4" height="8.50" fill="#de8c76"/>
<rect x="721.6" y="1799.50" width="261.4" height="12.00" fill="#44b556"/>
<rect x="721.6" y="1763.00" width="261.4" height="36.50" fill="#8a3fe8"/>
<rect x="721.6" y="1741.50" width="261.4" height="21.50" fill="#e4b78c"/>
<rect x="721.6" y="1706.00" width="261.4" height="35.50" fill="#0099ff"/>
<rect x="721.6" y="1682.00" width="261.4" height="24.00" fill="#4ccb8c"/>
<rect x="721.6" y="1680.50" width="261.4" height="1.50" fill="#5c73f7"/>
<rect x="721.6" y="1335.50" width="261.4" height="345.00" fill="#d14d6d"/>
<rect x="721.6" y="2187.30" width="261.4" height="3.5" fill="#000" fill-opacity="0.22"/>
<line x1="721.6" y1="1678.70" x2="983.0" y2="1678.70" stroke="#000" stroke-opacity="0.16" stroke-width="1.6"/>
<line x1="721.6" y1="1680.50" x2="983.0" y2="1680.50" stroke="#fff" stroke-opacity="0.55" stroke-width="2.0"/>
<line x1="721.6" y1="1680.20" x2="983.0" y2="1680.20" stroke="#000" stroke-opacity="0.16" stroke-width="1.6"/>
<line x1="721.6" y1="1682.00" x2="983.0" y2="1682.00" stroke="#fff" stroke-opacity="0.55" stroke-width="2.0"/>
<line x1="721.6" y1="1707.80" x2="983.0" y2="1707.80" stroke="#000" stroke-opacity="0.16" stroke-width="1.6"/>
<line x1="721.6" y1="1706.00" x2="983.0" y2="1706.00" stroke="#fff" stroke-opacity="0.55" stroke-width="2.0"/>
<line x1="721.6" y1="1739.70" x2="983.0" y2="1739.70" stroke="#000" stroke-opacity="0.16" stroke-width="1.6"/>
<line x1="721.6" y1="1741.50" x2="983.0" y2="1741.50" stroke="#fff" stroke-opacity="0.55" stroke-width="2.0"/>
<line x1="721.6" y1="1764.80" x2="983.0" y2="1764.80" stroke="#000" stroke-opacity="0.16" stroke-width="1.6"/>
<line x1="721.6" y1="1763.00" x2="983.0" y2="1763.00" stroke="#fff" stroke-opacity="0.55" stroke-width="2.0"/>
<line x1="721.6" y1="1797.70" x2="983.0" y2="1797.70" stroke="#000" stroke-opacity="0.16" stroke-width="1.6"/>
<line x1="721.6" y1="1799.50" x2="983.0" y2="1799.50" stroke="#fff" stroke-opacity="0.55" stroke-width="2.0"/>
<line x1="721.6" y1="1809.70" x2="983.0" y2="1809.70" stroke="#000" stroke-opacity="0.16" stroke-width="1.6"/>
<line x1="721.6" y1="1811.50" x2="983.0" y2="1811.50" stroke="#fff" stroke-opacity="0.55" stroke-width="2.0"/>
<line x1="721.6" y1="1821.80" x2="983.0" y2="1821.80" stroke="#000" stroke-opacity="0.16" stroke-width="1.6"/>
<line x1="721.6" y1="1820.00" x2="983.0" y2="1820.00" stroke="#fff" stroke-opacity="0.55" stroke-width="2.0"/>
<line x1="721.6" y1="1851.70" x2="983.0" y2="1851.70" stroke="#000" stroke-opacity="0.16" stroke-width="1.6"/>
<line x1="721.6" y1="1853.50" x2="983.0" y2="1853.50" stroke="#fff" stroke-opacity="0.55" stroke-width="2.0"/>
<line x1="721.6" y1="1960.80" x2="983.0" y2="1960.80" stroke="#000" stroke-opacity="0.16" stroke-width="1.6"/>
<line x1="721.6" y1="1959.00" x2="983.0" y2="1959.00" stroke="#fff" stroke-opacity="0.55" stroke-width="2.0"/>
<line x1="722.35" y1="1335.50" x2="722.35" y2="2187.80" stroke="#000" stroke-opacity="0.112" stroke-width="1.5"/>
<line x1="720.00" y1="1335.50" x2="720.00" y2="2185.30" stroke="#fff" stroke-opacity="0.75" stroke-width="2.4"/>
<line x1="982.25" y1="1335.50" x2="982.25" y2="2187.80" stroke="#000" stroke-opacity="0.112" stroke-width="1.5"/>
<line x1="984.60" y1="1335.50" x2="984.60" y2="2185.30" stroke="#fff" stroke-opacity="0.75" stroke-width="2.4"/>
<rect x="1095.4" y="2169.50" width="261.8" height="21.30" fill="#3264fa"/>
<rect x="1095.4" y="2138.00" width="261.8" height="31.50" fill="#33d3bb"/>
<rect x="1095.4" y="2103.50" width="261.8" height="34.50" fill="#6f55f5"/>
<rect x="1095.4" y="2053.50" width="261.8" height="50.00" fill="#de8c76"/>
<rect x="1095.4" y="2022.00" width="261.8" height="31.50" fill="#44b556"/>
<rect x="1095.4" y="2013.00" width="261.8" height="9.00" fill="#8a3fe8"/>
<rect x="1095.4" y="1982.50" width="261.8" height="30.50" fill="#e4b78c"/>
<rect x="1095.4" y="1982.00" width="261.8" height="0.50" fill="#0099ff"/>
<rect x="1095.4" y="1963.50" width="261.8" height="18.50" fill="#4ccb8c"/>
<rect x="1095.4" y="1942.00" width="261.8" height="21.50" fill="#5c73f7"/>
<rect x="1095.4" y="1335.50" width="261.8" height="606.50" fill="#d14d6d"/>
<rect x="1095.4" y="2187.30" width="261.8" height="3.5" fill="#000" fill-opacity="0.22"/>
<line x1="1095.4" y1="1940.20" x2="1357.2" y2="1940.20" stroke="#000" stroke-opacity="0.16" stroke-width="1.6"/>
<line x1="1095.4" y1="1942.00" x2="1357.2" y2="1942.00" stroke="#fff" stroke-opacity="0.55" stroke-width="2.0"/>
<line x1="1095.4" y1="1961.70" x2="1357.2" y2="1961.70" stroke="#000" stroke-opacity="0.16" stroke-width="1.6"/>
<line x1="1095.4" y1="1963.50" x2="1357.2" y2="1963.50" stroke="#fff" stroke-opacity="0.55" stroke-width="2.0"/>
<line x1="1095.4" y1="1983.80" x2="1357.2" y2="1983.80" stroke="#000" stroke-opacity="0.16" stroke-width="1.6"/>
<line x1="1095.4" y1="1982.00" x2="1357.2" y2="1982.00" stroke="#fff" stroke-opacity="0.55" stroke-width="2.0"/>
<line x1="1095.4" y1="1980.70" x2="1357.2" y2="1980.70" stroke="#000" stroke-opacity="0.16" stroke-width="1.6"/>
<line x1="1095.4" y1="1982.50" x2="1357.2" y2="1982.50" stroke="#fff" stroke-opacity="0.55" stroke-width="2.0"/>
<line x1="1095.4" y1="2014.80" x2="1357.2" y2="2014.80" stroke="#000" stroke-opacity="0.16" stroke-width="1.6"/>
<line x1="1095.4" y1="2013.00" x2="1357.2" y2="2013.00" stroke="#fff" stroke-opacity="0.55" stroke-width="2.0"/>
<line x1="1095.4" y1="2020.20" x2="1357.2" y2="2020.20" stroke="#000" stroke-opacity="0.16" stroke-width="1.6"/>
<line x1="1095.4" y1="2022.00" x2="1357.2" y2="2022.00" stroke="#fff" stroke-opacity="0.55" stroke-width="2.0"/>
<line x1="1095.4" y1="2051.70" x2="1357.2" y2="2051.70" stroke="#000" stroke-opacity="0.16" stroke-width="1.6"/>
<line x1="1095.4" y1="2053.50" x2="1357.2" y2="2053.50" stroke="#fff" stroke-opacity="0.55" stroke-width="2.0"/>
<line x1="1095.4" y1="2105.30" x2="1357.2" y2="2105.30" stroke="#000" stroke-opacity="0.16" stroke-width="1.6"/>
<line x1="1095.4" y1="2103.50" x2="1357.2" y2="2103.50" stroke="#fff" stroke-opacity="0.55" stroke-width="2.0"/>
<line x1="1095.4" y1="2136.20" x2="1357.2" y2="2136.20" stroke="#000" stroke-opacity="0.16" stroke-width="1.6"/>
<line x1="1095.4" y1="2138.00" x2="1357.2" y2="2138.00" stroke="#fff" stroke-opacity="0.55" stroke-width="2.0"/>
<line x1="1095.4" y1="2171.30" x2="1357.2" y2="2171.30" stroke="#000" stroke-opacity="0.16" stroke-width="1.6"/>
<line x1="1095.4" y1="2169.50" x2="1357.2" y2="2169.50" stroke="#fff" stroke-opacity="0.55" stroke-width="2.0"/>
<line x1="1096.15" y1="1335.50" x2="1096.15" y2="2187.80" stroke="#000" stroke-opacity="0.112" stroke-width="1.5"/>
<line x1="1093.80" y1="1335.50" x2="1093.80" y2="2185.30" stroke="#fff" stroke-opacity="0.75" stroke-width="2.4"/>
<line x1="1356.45" y1="1335.50" x2="1356.45" y2="2187.80" stroke="#000" stroke-opacity="0.112" stroke-width="1.5"/>
<line x1="1358.80" y1="1335.50" x2="1358.80" y2="2185.30" stroke="#fff" stroke-opacity="0.75" stroke-width="2.4"/>
<rect x="1469.3" y="1969.00" width="261.7" height="221.80" fill="#3264fa"/>
<rect x="1469.3" y="1839.50" width="261.7" height="129.50" fill="#33d3bb"/>
<rect x="1469.3" y="1803.00" width="261.7" height="36.50" fill="#6f55f5"/>
<rect x="1469.3" y="1791.50" width="261.7" height="11.50" fill="#de8c76"/>
<rect x="1469.3" y="1773.00" width="261.7" height="18.50" fill="#44b556"/>
<rect x="1469.3" y="1731.50" width="261.7" height="41.50" fill="#8a3fe8"/>
<rect x="1469.3" y="1724.00" width="261.7" height="7.50" fill="#e4b78c"/>
<rect x="1469.3" y="1688.00" width="261.7" height="36.00" fill="#0099ff"/>
<rect x="1469.3" y="1660.00" width="261.7" height="28.00" fill="#4ccb8c"/>
<rect x="1469.3" y="1659.00" width="261.7" height="1.00" fill="#5c73f7"/>
<rect x="1469.3" y="1335.50" width="261.7" height="323.50" fill="#d14d6d"/>
<rect x="1469.3" y="2187.30" width="261.7" height="3.5" fill="#000" fill-opacity="0.22"/>
<line x1="1469.3" y1="1657.20" x2="1731.0" y2="1657.20" stroke="#000" stroke-opacity="0.16" stroke-width="1.6"/>
<line x1="1469.3" y1="1659.00" x2="1731.0" y2="1659.00" stroke="#fff" stroke-opacity="0.55" stroke-width="2.0"/>
<line x1="1469.3" y1="1658.20" x2="1731.0" y2="1658.20" stroke="#000" stroke-opacity="0.16" stroke-width="1.6"/>
<line x1="1469.3" y1="1660.00" x2="1731.0" y2="1660.00" stroke="#fff" stroke-opacity="0.55" stroke-width="2.0"/>
<line x1="1469.3" y1="1689.80" x2="1731.0" y2="1689.80" stroke="#000" stroke-opacity="0.16" stroke-width="1.6"/>
<line x1="1469.3" y1="1688.00" x2="1731.0" y2="1688.00" stroke="#fff" stroke-opacity="0.55" stroke-width="2.0"/>
<line x1="1469.3" y1="1722.20" x2="1731.0" y2="1722.20" stroke="#000" stroke-opacity="0.16" stroke-width="1.6"/>
<line x1="1469.3" y1="1724.00" x2="1731.0" y2="1724.00" stroke="#fff" stroke-opacity="0.55" stroke-width="2.0"/>
<line x1="1469.3" y1="1733.30" x2="1731.0" y2="1733.30" stroke="#000" stroke-opacity="0.16" stroke-width="1.6"/>
<line x1="1469.3" y1="1731.50" x2="1731.0" y2="1731.50" stroke="#fff" stroke-opacity="0.55" stroke-width="2.0"/>
<line x1="1469.3" y1="1771.20" x2="1731.0" y2="1771.20" stroke="#000" stroke-opacity="0.16" stroke-width="1.6"/>
<line x1="1469.3" y1="1773.00" x2="1731.0" y2="1773.00" stroke="#fff" stroke-opacity="0.55" stroke-width="2.0"/>
<line x1="1469.3" y1="1789.70" x2="1731.0" y2="1789.70" stroke="#000" stroke-opacity="0.16" stroke-width="1.6"/>
<line x1="1469.3" y1="1791.50" x2="1731.0" y2="1791.50" stroke="#fff" stroke-opacity="0.55" stroke-width="2.0"/>
<line x1="1469.3" y1="1804.80" x2="1731.0" y2="1804.80" stroke="#000" stroke-opacity="0.16" stroke-width="1.6"/>
<line x1="1469.3" y1="1803.00" x2="1731.0" y2="1803.00" stroke="#fff" stroke-opacity="0.55" stroke-width="2.0"/>
<line x1="1469.3" y1="1837.70" x2="1731.0" y2="1837.70" stroke="#000" stroke-opacity="0.16" stroke-width="1.6"/>
<line x1="1469.3" y1="1839.50" x2="1731.0" y2="1839.50" stroke="#fff" stroke-opacity="0.55" stroke-width="2.0"/>
<line x1="1469.3" y1="1970.80" x2="1731.0" y2="1970.80" stroke="#000" stroke-opacity="0.16" stroke-width="1.6"/>
<line x1="1469.3" y1="1969.00" x2="1731.0" y2="1969.00" stroke="#fff" stroke-opacity="0.55" stroke-width="2.0"/>
<line x1="1470.05" y1="1335.50" x2="1470.05" y2="2187.80" stroke="#000" stroke-opacity="0.112" stroke-width="1.5"/>
<line x1="1467.70" y1="1335.50" x2="1467.70" y2="2185.30" stroke="#fff" stroke-opacity="0.75" stroke-width="2.4"/>
<rect x="1911.40" y="139.50" width="47.60" height="47.50" fill="#3264fa" stroke="#2448b4" stroke-width="1.6"/>
<rect x="1911.40" y="206.10" width="47.60" height="47.50" fill="#33d3bb" stroke="#259887" stroke-width="1.6"/>
<rect x="1911.40" y="272.70" width="47.60" height="47.50" fill="#6f55f5" stroke="#503db0" stroke-width="1.6"/>
<rect x="1911.40" y="339.30" width="47.60" height="47.50" fill="#de8c76" stroke="#a06555" stroke-width="1.6"/>
<rect x="1911.40" y="405.90" width="47.60" height="47.50" fill="#44b556" stroke="#31823e" stroke-width="1.6"/>
<rect x="1911.40" y="472.50" width="47.60" height="47.50" fill="#8a3fe8" stroke="#632da7" stroke-width="1.6"/>
<rect x="1911.40" y="539.10" width="47.60" height="47.50" fill="#e4b78c" stroke="#a48465" stroke-width="1.6"/>
<rect x="1911.40" y="605.70" width="47.60" height="47.50" fill="#0099ff" stroke="#006eb8" stroke-width="1.6"/>
<rect x="1911.40" y="672.30" width="47.60" height="47.50" fill="#4ccb8c" stroke="#379265" stroke-width="1.6"/>
<rect x="1911.40" y="738.90" width="47.60" height="47.50" fill="#5c73f7" stroke="#4253b2" stroke-width="1.6"/>
<rect x="1911.40" y="805.50" width="47.60" height="47.50" fill="#d14d6d" stroke="#96374e" stroke-width="1.6"/>
<rect x="1938.70" y="1380.50" width="47.50" height="47.00" fill="#3264fa" stroke="#2448b4" stroke-width="1.6"/>
<rect x="1938.70" y="1447.30" width="47.50" height="47.00" fill="#33d3bb" stroke="#259887" stroke-width="1.6"/>
<rect x="1938.70" y="1514.10" width="47.50" height="47.00" fill="#6f55f5" stroke="#503db0" stroke-width="1.6"/>
<rect x="1938.70" y="1580.90" width="47.50" height="47.00" fill="#de8c76" stroke="#a06555" stroke-width="1.6"/>
<rect x="1938.70" y="1647.70" width="47.50" height="47.00" fill="#44b556" stroke="#31823e" stroke-width="1.6"/>
<rect x="1938.70" y="1714.50" width="47.50" height="47.00" fill="#8a3fe8" stroke="#632da7" stroke-width="1.6"/>
<rect x="1938.70" y="1781.30" width="47.50" height="47.00" fill="#e4b78c" stroke="#a48465" stroke-width="1.6"/>
<rect x="1938.70" y="1848.10" width="47.50" height="47.00" fill="#0099ff" stroke="#006eb8" stroke-width="1.6"/>
<rect x="1938.70" y="1914.90" width="47.50" height="47.00" fill="#4ccb8c" stroke="#379265" stroke-width="1.6"/>
<rect x="1938.70" y="1981.70" width="47.50" height="47.00" fill="#5c73f7" stroke="#4253b2" stroke-width="1.6"/>
<rect x="1938.70" y="2048.50" width="47.50" height="47.00" fill="#d14d6d" stroke="#96374e" stroke-width="1.6"/>
<text transform="translate(15.70,33.75) scale(1.0967,1.0597)" font-family="Liberation Sans, Arial, Helvetica, sans-serif" font-size="45" font-weight="bold">A</text>
<text transform="translate(34.69,1273.70) scale(0.9690,1.0656)" font-family="Liberation Sans, Arial, Helvetica, sans-serif" font-size="47" font-weight="bold">B</text>
<text transform="translate(136.26,958.90) scale(0.9222,1.0526)" font-family="Liberation Sans, Arial, Helvetica, sans-serif" font-size="56" letter-spacing="3.6">0</text>
<text transform="translate(107.67,875.10) scale(0.9222,1.0000)" font-family="Liberation Sans, Arial, Helvetica, sans-serif" font-size="56" letter-spacing="3.6"><tspan font-family="NanumGothic, Liberation Sans, sans-serif" font-weight="bold" font-size="52">1</tspan><tspan dx="-4.3">0</tspan></text>
<text transform="translate(103.98,789.80) scale(0.9222,1.0526)" font-family="Liberation Sans, Arial, Helvetica, sans-serif" font-size="56" letter-spacing="3.6">20</text>
<text transform="translate(103.98,705.80) scale(0.9222,1.0526)" font-family="Liberation Sans, Arial, Helvetica, sans-serif" font-size="56" letter-spacing="3.6">30</text>
<text transform="translate(103.98,621.50) scale(0.9222,1.0526)" font-family="Liberation Sans, Arial, Helvetica, sans-serif" font-size="56" letter-spacing="3.6">40</text>
<text transform="translate(103.98,537.40) scale(0.9222,1.0526)" font-family="Liberation Sans, Arial, Helvetica, sans-serif" font-size="56" letter-spacing="3.6">50</text>
<text transform="translate(103.98,453.40) scale(0.9222,1.0526)" font-family="Liberation Sans, Arial, Helvetica, sans-serif" font-size="56" letter-spacing="3.6">60</text>
<text transform="translate(103.98,364.40) scale(0.9222,1.0526)" font-family="Liberation Sans, Arial, Helvetica, sans-serif" font-size="56" letter-spacing="3.6">70</text>
<text transform="translate(103.98,280.70) scale(0.9222,1.0526)" font-family="Liberation Sans, Arial, Helvetica, sans-serif" font-size="56" letter-spacing="3.6">80</text>
<text transform="translate(103.98,196.40) scale(0.9222,1.0526)" font-family="Liberation Sans, Arial, Helvetica, sans-serif" font-size="56" letter-spacing="3.6">90</text>
<text transform="translate(76.31,111.30) scale(0.9222,1.0000)" font-family="Liberation Sans, Arial, Helvetica, sans-serif" font-size="56" letter-spacing="3.6"><tspan font-family="NanumGothic, Liberation Sans, sans-serif" font-weight="bold" font-size="52">1</tspan><tspan dx="-4.3">0</tspan>0</text>
<text transform="translate(156.26,2205.30) scale(0.9222,0.9421)" font-family="Liberation Sans, Arial, Helvetica, sans-serif" font-size="56" letter-spacing="3.6">0</text>
<text transform="translate(127.67,2119.00) scale(0.9222,0.8950)" font-family="Liberation Sans, Arial, Helvetica, sans-serif" font-size="56" letter-spacing="3.6"><tspan font-family="NanumGothic, Liberation Sans, sans-serif" font-weight="bold" font-size="52">1</tspan><tspan dx="-4.3">0</tspan></text>
<text transform="translate(123.98,2036.02) scale(0.9222,0.9421)" font-family="Liberation Sans, Arial, Helvetica, sans-serif" font-size="56" letter-spacing="3.6">20</text>
<text transform="translate(123.98,1951.14) scale(0.9222,0.9421)" font-family="Liberation Sans, Arial, Helvetica, sans-serif" font-size="56" letter-spacing="3.6">30</text>
<text transform="translate(123.98,1866.10) scale(0.9222,0.9421)" font-family="Liberation Sans, Arial, Helvetica, sans-serif" font-size="56" letter-spacing="3.6">40</text>
<text transform="translate(123.98,1780.60) scale(0.9222,0.9421)" font-family="Liberation Sans, Arial, Helvetica, sans-serif" font-size="56" letter-spacing="3.6">50</text>
<text transform="translate(123.98,1695.80) scale(0.9222,0.9421)" font-family="Liberation Sans, Arial, Helvetica, sans-serif" font-size="56" letter-spacing="3.6">60</text>
<text transform="translate(123.98,1610.02) scale(0.9222,0.9421)" font-family="Liberation Sans, Arial, Helvetica, sans-serif" font-size="56" letter-spacing="3.6">70</text>
<text transform="translate(123.98,1524.34) scale(0.9222,0.9421)" font-family="Liberation Sans, Arial, Helvetica, sans-serif" font-size="56" letter-spacing="3.6">80</text>
<text transform="translate(123.98,1436.40) scale(0.9222,0.9421)" font-family="Liberation Sans, Arial, Helvetica, sans-serif" font-size="56" letter-spacing="3.6">90</text>
<text transform="translate(96.31,1352.50) scale(0.9222,0.8950)" font-family="Liberation Sans, Arial, Helvetica, sans-serif" font-size="56" letter-spacing="3.6"><tspan font-family="NanumGothic, Liberation Sans, sans-serif" font-weight="bold" font-size="52">1</tspan><tspan dx="-4.3">0</tspan>0</text>
<text transform="translate(52.65,812.93) rotate(-90) scale(0.9856,1.0288)" font-family="Liberation Sans, Arial, Helvetica, sans-serif" font-size="56">Relative Abundance (%)</text>
<text transform="translate(69.50,2057.46) rotate(-90) scale(0.9914,0.8500)" font-family="Liberation Sans, Arial, Helvetica, sans-serif" font-size="56">Relative Abundance (%)</text>
<text transform="translate(422.83,1021.00) scale(0.9892,1.0526)" font-family="Liberation Sans, Arial, Helvetica, sans-serif" font-size="56">CK</text>
<text transform="translate(759.44,1021.00) scale(0.9717,1.0500)" font-family="Liberation Sans, Arial, Helvetica, sans-serif" font-size="56">MNBs</text>
<text transform="translate(1162.31,1021.00) scale(0.9785,1.0553)" font-family="Liberation Sans, Arial, Helvetica, sans-serif" font-size="56">MA</text>
<text transform="translate(1454.72,1021.20) scale(0.9569,1.0500)" font-family="Liberation Sans, Arial, Helvetica, sans-serif" font-size="56">MA-MNBs</text>
<text transform="translate(443.93,2266.30) scale(0.9892,0.9658)" font-family="Liberation Sans, Arial, Helvetica, sans-serif" font-size="56">CK</text>
<text transform="translate(813.31,2266.00) scale(0.9785,0.9579)" font-family="Liberation Sans, Arial, Helvetica, sans-serif" font-size="56">MA</text>
<text transform="translate(1155.82,2266.30) scale(0.9759,0.9658)" font-family="Liberation Sans, Arial, Helvetica, sans-serif" font-size="56">MNBs</text>
<text transform="translate(1480.38,2266.00) scale(0.9641,0.9500)" font-family="Liberation Sans, Arial, Helvetica, sans-serif" font-size="56">MA-MNBs</text>
<text transform="translate(846.81,1137.90) scale(0.9880,1.0022)" font-family="Liberation Serif, Times New Roman, serif" font-size="70">Treatment</text>
<text transform="translate(846.81,2369.50) scale(0.9880,1.0022)" font-family="Liberation Serif, Times New Roman, serif" font-size="70">Treatment</text>
<text transform="translate(1977.72,183.40) scale(0.9898,0.9850)" font-family="Liberation Sans, Arial, Helvetica, sans-serif" font-size="55" font-style="italic">Proteobacteria</text>
<text transform="translate(1979.17,250.00) scale(0.9855,0.9850)" font-family="Liberation Sans, Arial, Helvetica, sans-serif" font-size="55" font-style="italic">Actinobacteriota</text>
<text transform="translate(1980.26,316.60) scale(0.9784,0.9850)" font-family="Liberation Sans, Arial, Helvetica, sans-serif" font-size="55" font-style="italic">Gemmatimonadota</text>
<text transform="translate(1979.20,383.20) scale(0.9992,0.9850)" font-family="Liberation Sans, Arial, Helvetica, sans-serif" font-size="55" font-style="italic">Chloroflexi</text>
<text transform="translate(1979.18,449.80) scale(0.9913,0.9850)" font-family="Liberation Sans, Arial, Helvetica, sans-serif" font-size="55" font-style="italic">Acidobacteriota</text>
<text transform="translate(1978.23,516.40) scale(0.9859,0.9850)" font-family="Liberation Sans, Arial, Helvetica, sans-serif" font-size="55" font-style="italic">Bacteroidota</text>
<text transform="translate(1978.25,583.00) scale(0.9763,0.9850)" font-family="Liberation Sans, Arial, Helvetica, sans-serif" font-size="55" font-style="italic">Myxococcota</text>
<text transform="translate(1979.22,649.60) scale(0.9940,0.9850)" font-family="Liberation Sans, Arial, Helvetica, sans-serif" font-size="55" font-style="italic">Cyanobacteria</text>
<text transform="translate(1978.23,716.20) scale(0.9852,0.9850)" font-family="Liberation Sans, Arial, Helvetica, sans-serif" font-size="55" font-style="italic">Firmicutes</text>
<text transform="translate(1978.21,782.80) scale(0.9970,0.9850)" font-family="Liberation Sans, Arial, Helvetica, sans-serif" font-size="55" font-style="italic">Methylomirabilota</text>
<text transform="translate(1979.28,849.40) scale(0.9744,0.9850)" font-family="Liberation Sans, Arial, Helvetica, sans-serif" font-size="55" font-style="italic">Others</text>
<text transform="translate(2002.79,1424.00) scale(0.9936,0.9850)" font-family="Liberation Sans, Arial, Helvetica, sans-serif" font-size="55" font-style="italic">Alternaria</text>
<text transform="translate(2002.21,1490.80) scale(0.9964,0.9850)" font-family="Liberation Sans, Arial, Helvetica, sans-serif" font-size="55" font-style="italic">Fusarium</text>
<text transform="translate(2002.20,1557.60) scale(1.0004,0.9850)" font-family="Liberation Sans, Arial, Helvetica, sans-serif" font-size="55" font-style="italic">Pseudogymnoascus</text>
<text transform="translate(2002.22,1624.40) scale(0.9887,0.9850)" font-family="Liberation Sans, Arial, Helvetica, sans-serif" font-size="55" font-style="italic">Botryotrichum</text>
<text transform="translate(2002.20,1691.20) scale(0.9984,0.9850)" font-family="Liberation Sans, Arial, Helvetica, sans-serif" font-size="55" font-style="italic">Mortierella</text>
<text transform="translate(2003.65,1758.00) scale(0.9909,0.9850)" font-family="Liberation Sans, Arial, Helvetica, sans-serif" font-size="55" font-style="italic">Thelonectria</text>
<text transform="translate(2003.59,1824.80) scale(1.0015,0.9850)" font-family="Liberation Sans, Arial, Helvetica, sans-serif" font-size="55" font-style="italic">Thelephora</text>
<text transform="translate(2003.76,1891.60) scale(1.0132,0.9850)" font-family="Liberation Sans, Arial, Helvetica, sans-serif" font-size="55" font-style="italic">Cladosporium</text>
<text transform="translate(2003.77,1958.40) scale(1.0098,0.9850)" font-family="Liberation Sans, Arial, Helvetica, sans-serif" font-size="55" font-style="italic">Cephalotrichum</text>
<text transform="translate(2003.62,2025.20) scale(0.9970,0.9850)" font-family="Liberation Sans, Arial, Helvetica, sans-serif" font-size="55" font-style="italic">Trichoderma</text>
<text transform="translate(2003.88,2092.00) scale(0.9744,0.9850)" font-family="Liberation Sans, Arial, Helvetica, sans-serif" font-size="55" font-style="italic">Others</text>
</svg>
</body></html>
